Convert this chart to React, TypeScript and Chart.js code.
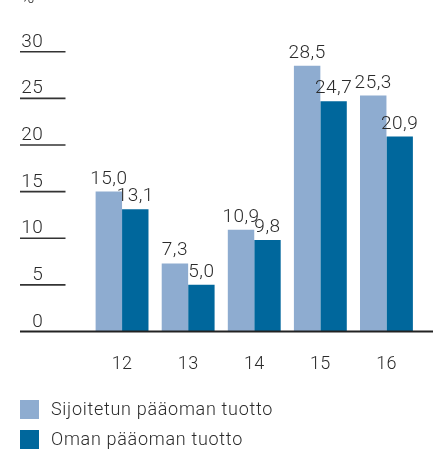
import React, { useEffect, useRef } from "react";
import { Chart, registerables } from "chart.js";

Chart.register(...registerables);

const categories = ["12", "13", "14", "15", "16"];
const sijoitetun = [15.0, 7.3, 10.9, 28.5, 25.3];
const oman = [13.1, 5.0, 9.8, 24.7, 20.9];
const yTicks = [0, 5, 10, 15, 20, 25, 30];
const seriesNames = ["Sijoitetun pääoman tuotto", "Oman pääoman tuotto"];
const colors = ["#8eacd0", "#00679c"];

const FONT = "Roboto, 'Liberation Sans', sans-serif";
const W = "300";
const TEXT = "#2b2b2b";

const fmt = (v: number) => v.toFixed(1).replace(".", ",");

const customDraw = {
  id: "customDraw",
  afterDraw(chart: any) {
    const ctx = chart.ctx as any;
    const y = chart.scales.y;
    const x = chart.scales.x;
    ctx.save();

    // percent sign (mostly cut off at top)
    ctx.fillStyle = TEXT;
    ctx.font = `${W} 18px ${FONT}`;
    ctx.textAlign = "left";
    ctx.textBaseline = "alphabetic";
    ctx.fillText("%", 21, 3);

    // y ticks: label above short line
    yTicks.forEach((t) => {
      const py = y.getPixelForValue(t);
      if (t !== 0) {
        ctx.strokeStyle = "#333333";
        ctx.lineWidth = 1.6;
        ctx.beginPath();
        ctx.moveTo(20, py);
        ctx.lineTo(65.5, py);
        ctx.stroke();
      }
      ctx.fillStyle = TEXT;
      ctx.font = `${W} 19px ${FONT}`;
      ctx.letterSpacing = "0.3px";
      ctx.textAlign = "right";
      ctx.textBaseline = "alphabetic";
      ctx.fillText(String(t), 43, py - 5);
    });

    // baseline
    const p0 = y.getPixelForValue(0);
    ctx.strokeStyle = "#222222";
    ctx.lineWidth = 2;
    ctx.beginPath();
    ctx.moveTo(20, p0);
    ctx.lineTo(433, p0);
    ctx.stroke();

    // x labels
    ctx.font = `${W} 18px ${FONT}`;
    ctx.letterSpacing = "0.3px";
    ctx.textAlign = "center";
    ctx.fillStyle = TEXT;
    categories.forEach((c, i) => {
      ctx.fillText(c, x.getPixelForValue(i), p0 + 37);
    });

    // data labels
    chart.data.datasets.forEach((ds: any, di: number) => {
      const meta = chart.getDatasetMeta(di);
      meta.data.forEach((bar: any, i: number) => {
        ctx.font = `${W} 19px ${FONT}`;
        ctx.letterSpacing = "0.5px";
        ctx.textAlign = "center";
        ctx.fillStyle = TEXT;
        ctx.fillText(fmt(ds.data[i]), bar.x, bar.y - 8);
      });
    });

    // legend
    seriesNames.forEach((name, i) => {
      const top = 400 + i * 30;
      ctx.fillStyle = colors[i];
      ctx.fillRect(20, top, 19, 19);
      ctx.fillStyle = TEXT;
      ctx.font = `${W} 18px ${FONT}`;
      ctx.letterSpacing = "0.7px";
      ctx.textAlign = "left";
      ctx.textBaseline = "middle";
      ctx.fillText(name, 51, top + 10);
      ctx.textBaseline = "alphabetic";
    });

    ctx.restore();
  },
};

export default function App() {
  const ref = useRef<HTMLCanvasElement | null>(null);

  useEffect(() => {
    if (!ref.current) return;
    const chart = new Chart(ref.current, {
      type: "bar",
      data: {
        labels: categories,
        datasets: [
          {
            label: seriesNames[0],
            data: sijoitetun,
            backgroundColor: colors[0],
            borderWidth: 0,
            categoryPercentage: 0.8,
            barPercentage: 1.0,
          },
          {
            label: seriesNames[1],
            data: oman,
            backgroundColor: colors[1],
            borderWidth: 0,
            categoryPercentage: 0.8,
            barPercentage: 1.0,
          },
        ],
      },
      options: {
        responsive: false,
        animation: false,
        layout: { padding: { left: 89, right: 13.5, top: 51.7, bottom: 119.5 } },
        plugins: {
          legend: { display: false },
          tooltip: { enabled: false },
        },
        scales: {
          x: { display: false },
          y: { display: false, min: 0, max: 30 },
        },
      },
      plugins: [customDraw],
    });
    return () => chart.destroy();
  }, []);

  return (
    <div style={{ position: "absolute", left: 0, top: 0, width: 433, height: 451, background: "#fff" }}>
      <canvas ref={ref} width={433} height={451} style={{ display: "block" }} />
    </div>
  );
}
